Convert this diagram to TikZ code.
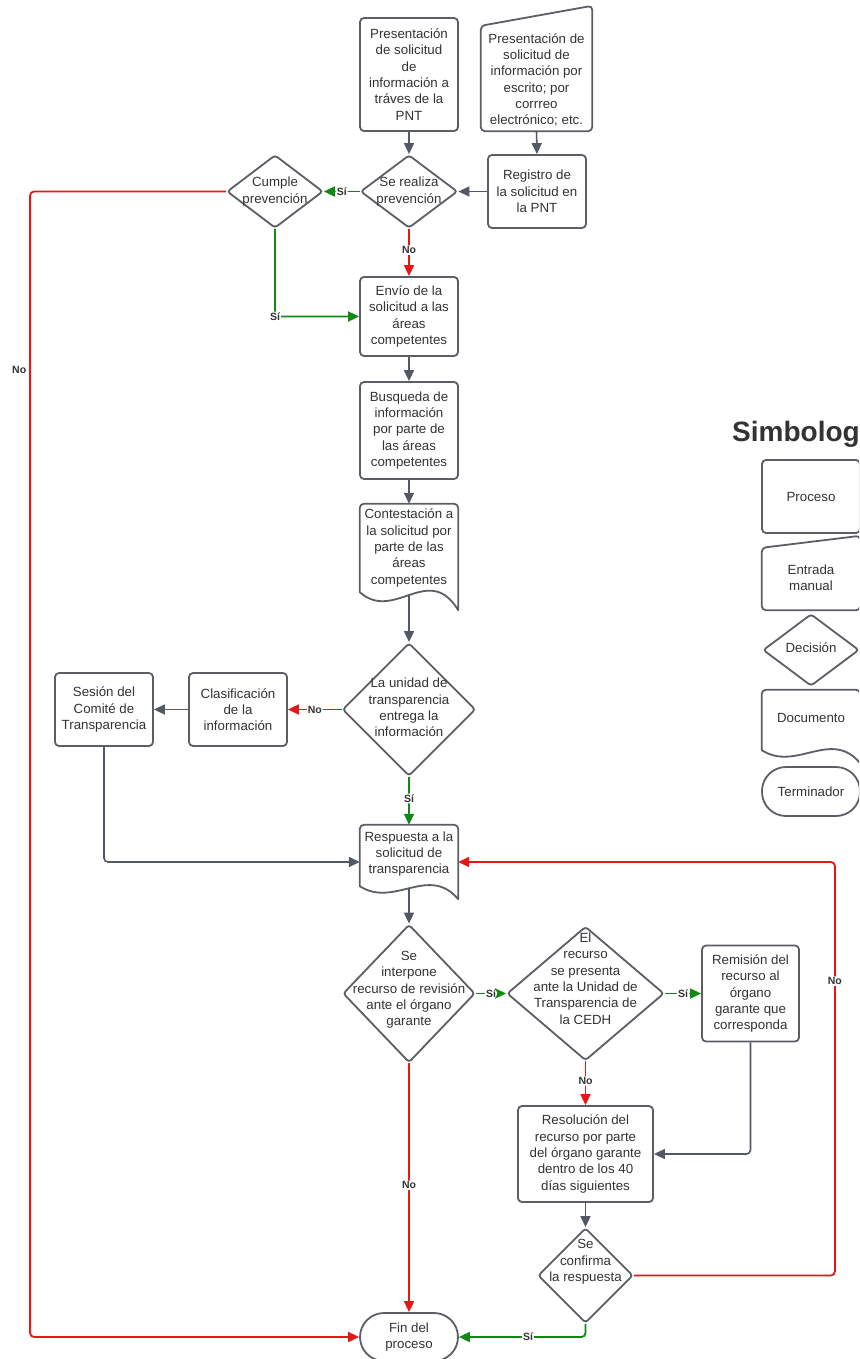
\documentclass[tikz,border=0pt]{standalone}
\usepackage{fontspec}
\setmainfont{Liberation Sans}
\usetikzlibrary{shapes.geometric, arrows.meta, positioning, calc}
\definecolor{lineGray}{RGB}{92,94,102}
\definecolor{arrowGray}{RGB}{82,88,100}
\definecolor{flowRed}{RGB}{232,22,22}
\definecolor{flowGreen}{RGB}{16,138,20}
\definecolor{textGray}{RGB}{51,51,51}
\tikzset{
    base_text/.style={align=center, text=textGray, font=\fontsize{13.3}{16.3}\selectfont},
    shape_line/.style={draw=lineGray, line width=1.8pt, line cap=round, line join=round},
    block_process/.style={rectangle, draw=lineGray, line width=1.8pt, rounded corners=4pt, fill=white, base_text, minimum width=98pt, inner sep=0pt},
    block_decision/.style={diamond, draw=lineGray, line width=1.8pt, rounded corners=3pt, fill=white, inner sep=0pt},
    block_shape/.style={rectangle, inner sep=0pt, minimum width=98pt},
    block_end/.style={rectangle, draw=lineGray, line width=1.8pt, rounded corners=24pt, fill=white, base_text, minimum width=98pt, minimum height=48pt},
    arrow_gray/.style={-{Triangle[length=11pt,width=10pt]}, draw=arrowGray, line width=1.6pt, rounded corners=4pt},
    arrow_red/.style={-{Triangle[length=11pt,width=10pt]}, draw=flowRed, line width=1.8pt, rounded corners=4pt},
    arrow_green/.style={-{Triangle[length=11pt,width=10pt]}, draw=flowGreen, line width=1.8pt, rounded corners=4pt},
    lbl/.style={fill=white, inner sep=1pt, text=textGray, font=\fontsize{10.5}{12}\selectfont\bfseries}
}
% outline of a document shape: node name, drop of the wave
\newcommand{\docoutline}[2]{%
  \draw[shape_line] (#1.south east)
    .. controls ($(#1.south west)!0.7!(#1.south east)+(0,{-2.7*#2})$) and ($(#1.south west)!0.35!(#1.south east)+(0,{0.7*#2})$) .. ($(#1.south west)+(0,-#2)$)
    [rounded corners=4pt] -- (#1.north west) -- (#1.north east) -- (#1.south east);
}
% outline of a manual input shape: node name, rise of the top edge
\newcommand{\manualoutline}[2]{%
  \draw[shape_line, rounded corners=4pt] (#1.south west) -- (#1.north west) -- ($(#1.north east)+(0,-#2)$) -- (#1.south east) -- cycle;
}

\begin{document}
\begin{tikzpicture}[x=1pt, y=-1pt]

    \useasboundingbox (0,0) rectangle (859,1359);
    \clip (0,0) rectangle (859,1359);

    % Inicio
    \node[block_process, minimum height=113pt] (pnt) at (409,74.5)
    {Presentación\\de solicitud\\de\\información a\\tráves de la\\PNT};

    \node[block_shape, minimum width=111pt, minimum height=105pt] (escrito) at (536.5,78.5) {};
    \manualoutline{escrito}{20}
    \node[base_text] (escrito_txt) at (536.5,80)
    {Presentación de\\solicitud de\\información por\\escrito; por\\corrreo\\electrónico; etc.};

    \node[block_process, minimum height=73pt] (registro) at (537,191.5)
    {Registro de\\la solicitud en\\la PNT};

    \node[block_decision, minimum width=97pt, minimum height=73pt] (prevencion) at (409,191.5) {};
    \node[base_text] (prevencion_txt) at (409,191.5) {Se realiza\\prevención};

    \node[block_decision, minimum width=96pt, minimum height=73pt] (cumple) at (275,191.5) {};
    \node[base_text] (cumple_txt) at (275,191.5) {Cumple\\prevención};

    % Columna central
    \node[block_process, minimum height=79pt] (envio) at (409,316.5)
    {Envío de la\\solicitud a las\\áreas\\competentes};

    \node[block_process, minimum height=97pt] (busqueda) at (409,430.5)
    {Busqueda de\\información\\por parte de\\las áreas\\competentes};

    \node[block_shape, minimum height=106pt] (contesta) at (409,557) {};
    \docoutline{contesta}{18}
    \node[base_text] (contesta_txt) at (409,548)
    {Contestación a\\la solicitud por\\parte de las\\áreas\\competentes};

    \node[block_decision, minimum width=133pt, minimum height=133pt] (entrega) at (409,709.5) {};
    \node[base_text] (entrega_txt) at (409,707.5)
    {La unidad de\\transparencia\\entrega la\\información};

    \node[block_process, minimum height=73pt] (clasif) at (238,709.5)
    {Clasificación\\de la\\información};

    \node[block_process, minimum height=73pt] (sesion) at (104,709.5)
    {Sesión del\\Comité de\\Transparencia};

    \node[block_shape, minimum height=74pt] (respuesta) at (409,862) {};
    \docoutline{respuesta}{13}
    \node[base_text] (respuesta_txt) at (409,854)
    {Respuesta a la\\solicitud de\\transparencia};

    % Recurso de revision
    \node[block_decision, minimum width=132pt, minimum height=138pt] (interpone) at (409,993.5) {};
    \node[base_text] (interpone_txt) at (409,990)
    {Se\\interpone\\recurso de revisión\\ante el órgano\\garante};

    \node[block_decision, minimum width=157pt, minimum height=134pt] (cedh) at (585.5,993.5) {};
    \node[base_text] (cedh_txt) at (585.5,978.5)
    {El\\recurso\\se presenta\\ante la Unidad de\\Transparencia de\\la CEDH};

    \node[block_process, minimum width=97pt, minimum height=96pt] (remision) at (750.5,993.5)
    {Remisión del\\recurso al\\órgano\\garante que\\corresponda};

    \node[block_process, minimum width=135pt, minimum height=96pt] (resolucion) at (585.5,1154)
    {Resolución del\\recurso por parte\\del órgano garante\\dentro de los 40\\días siguientes};

    \node[block_decision, minimum width=95pt, minimum height=95pt] (confirma) at (585.5,1275.5) {};
    \node[base_text] (confirma_txt) at (585.5,1262) {Se\\confirma\\la respuesta};

    \node[block_end] (fin) at (409,1337) {Fin del\\proceso};

    % Simbologia
    \node[anchor=base west, inner sep=0pt, text=textGray, font=\fontsize{28}{32}\selectfont\bfseries] (simb) at (732,441) {Simbología};

    \node[block_process, minimum height=73pt] (leg_proceso) at (811,496.5) {Proceso};

    \node[block_shape, minimum height=62pt] (leg_manual) at (811,579) {};
    \manualoutline{leg_manual}{12}
    \node[base_text] (leg_manual_txt) at (811,578) {Entrada\\manual};

    \node[block_decision, minimum width=96pt, minimum height=72pt] (leg_decision) at (811,650) {};
    \node[base_text] (leg_decision_txt) at (811,648) {Decisión};

    \node[block_shape, minimum height=73pt] (leg_doc) at (811,726.5) {};
    \docoutline{leg_doc}{13}
    \node[base_text] (leg_doc_txt) at (811,718) {Documento};

    \node[block_end, minimum height=49pt] (leg_fin) at (811,791.5) {Terminador};

    % Conectores
    \draw[arrow_gray] (pnt) -- (prevencion);
    \draw[arrow_gray] (escrito.south) -- (registro.north);
    \draw[arrow_gray] (registro.west) -- (prevencion.east);
    \draw[arrow_green] (prevencion.west) -- node[lbl, pos=0.5] {Sí} (cumple.east);
    \draw[arrow_red] (prevencion.south) -- node[lbl, pos=0.45] {No} (envio.north);
    \draw[arrow_green] (cumple.south) |- node[lbl, pos=0.5] {Sí} (envio.west);
    \draw[arrow_red] (cumple.west) -- ++(-196,0) |- node[lbl, pos=0.078, left=2pt] {No} (fin.west);

    \draw[arrow_gray] (envio) -- (busqueda);
    \draw[arrow_gray] (busqueda) -- (contesta.north);
    \draw[arrow_gray, shorten <=-15pt] (contesta.south) -- (entrega.north);
    \draw[arrow_red] (entrega.west) -- node[lbl, pos=0.5] {No} (clasif.east);
    \draw[arrow_gray] (clasif) -- (sesion);
    \draw[arrow_gray] (sesion.south) |- (respuesta.west);
    \draw[arrow_green] (entrega.south) -- node[lbl, pos=0.45] {Sí} (respuesta.north);

    \draw[arrow_gray, shorten <=-11pt] (respuesta.south) -- (interpone.north);
    \draw[arrow_green] (interpone.east) -- node[lbl, pos=0.5] {Sí} (cedh.west);
    \draw[arrow_green] (cedh.east) -- node[lbl, pos=0.5] {Sí} (remision.west);
    \draw[arrow_red] (cedh.south) -- node[lbl, pos=0.45] {No} (resolucion.north);
    \draw[arrow_gray] (remision.south) |- (resolucion.east);
    \draw[arrow_gray] (resolucion) -- (confirma);
    \draw[arrow_red] (confirma.east) -- ++(201,0) |- node[lbl, pos=0.356] {No} (respuesta.east);
    \draw[arrow_green] (confirma.south) |- node[lbl, pos=0.727] {Sí} (fin.east);
    \draw[arrow_red] (interpone.south) -- node[lbl, pos=0.49] {No} (fin.north);

\end{tikzpicture}
\end{document}
